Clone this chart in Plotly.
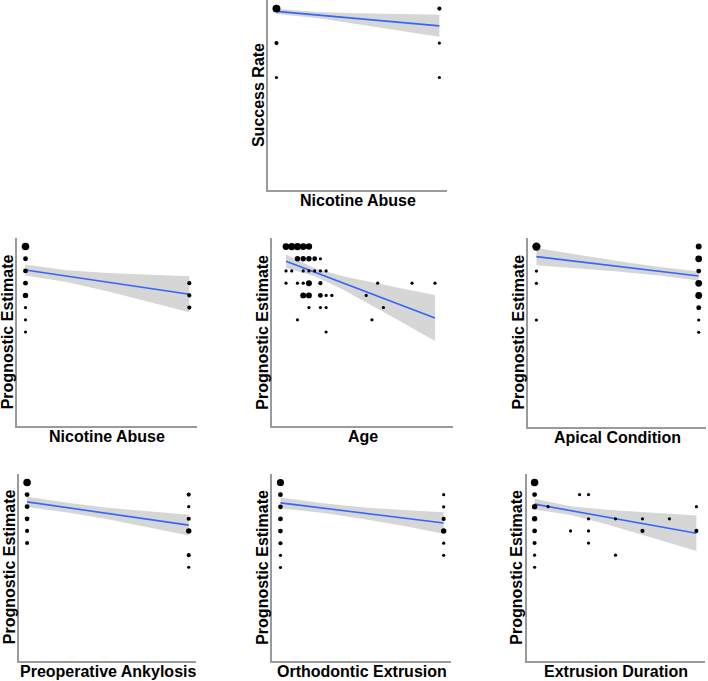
import plotly.graph_objects as go

W, H = 708, 681

# ---------------- data ----------------
# Panel 1: Success Rate vs Nicotine Abuse
sr_x = [0, 0, 0, 1, 1, 1]
sr_y = [5, 4, 3, 5, 4, 3]
sr_n = [10, 2, 1, 2, 1, 1]
sr_fx = [0, 0.25, 0.5, 0.75, 1]
sr_fit = [4.92, 4.815, 4.71, 4.605, 4.50]
sr_lo = [4.842, 4.728, 4.554, 4.369, 4.18]
sr_hi = [4.998, 4.902, 4.866, 4.841, 4.82]

# Panel 2: Prognostic Estimate vs Nicotine Abuse
nic_x = [0, 0, 0, 0, 0, 0, 0, 0, 1, 1, 1]
nic_y = [14, 13, 12, 11, 10, 9, 8, 7, 11, 10, 9]
nic_n = [9, 3, 3, 3, 4, 1, 1, 1, 2, 2, 2]
nic_fx = [0, 0.25, 0.5, 0.75, 1]
nic_fit = [12.08, 11.58, 11.085, 10.59, 10.09]
nic_lo = [11.63, 11.10, 10.33, 9.49, 8.62]
nic_hi = [12.53, 12.06, 11.84, 11.69, 11.56]

# Panel 3: Prognostic Estimate vs Age
age_x = [10, 12, 14, 16, 18,
         14, 16, 18, 20, 22,
         10, 12, 16, 18, 20, 22, 24,
         10, 14, 16, 18, 22, 42, 54, 62,
         16, 18, 22, 24, 26, 38,
         18, 22, 24, 44,
         14, 40,
         24]
age_y = [14, 14, 14, 14, 14,
         13, 13, 13, 13, 13,
         12, 12, 12, 12, 12, 12, 12,
         11, 11, 11, 11, 11, 11, 11, 11,
         10, 10, 10, 10, 10, 10,
         9, 9, 9, 9,
         8, 8,
         7]
age_n = [7, 8, 8, 7, 6,
         4, 4, 4, 3, 1,
         1, 1, 1, 1, 1, 1, 1,
         1, 1, 1, 5, 2, 1, 1, 1,
         5, 5, 3, 1, 1, 1,
         1, 1, 1, 1,
         1, 1,
         1]
age_fx = [10, 20, 30, 40, 50, 62]
age_fit = [12.79, 11.90, 11.01, 10.11, 9.22, 8.15]
age_lo = [12.24, 11.57, 10.46, 9.16, 7.86, 6.27]
age_hi = [13.34, 12.23, 11.56, 11.06, 10.58, 10.03]

# Panel 4: Prognostic Estimate vs Apical Condition
ap_x = [0, 0, 0, 0, 1, 1, 1, 1, 1, 1, 1, 1]
ap_y = [14, 12, 11, 8, 14, 13, 12, 11, 10, 9, 8, 7]
ap_n = [11, 1, 1, 1, 5, 7, 3, 7, 7, 3, 1, 1]
ap_fx = [0, 0.25, 0.5, 0.75, 1]
ap_fit = [13.18, 12.78, 12.385, 11.99, 11.59]
ap_lo = [12.48, 12.23, 11.955, 11.63, 11.22]
ap_hi = [13.88, 13.33, 12.815, 12.35, 11.96]

# Panel 5: Prognostic Estimate vs Preoperative Ankylosis
ank_x = [0, 0, 0, 0, 0, 0, 1, 1, 1, 1, 1, 1]
ank_y = [14, 13, 12, 11, 10, 9, 13, 12, 11, 10, 8, 7]
ank_n = [9, 3, 3, 3, 2, 2, 2, 1, 2, 4, 2, 1]
ank_fx = [0, 0.25, 0.5, 0.75, 1]
ank_fit = [12.40, 11.92, 11.44, 10.96, 10.48]
ank_lo = [11.97, 11.52, 10.97, 10.33, 9.63]
ank_hi = [12.83, 12.32, 11.91, 11.59, 11.33]

# Panel 6: Prognostic Estimate vs Orthodontic Extrusion
oe_x = [0, 0, 0, 0, 0, 0, 0, 0, 1, 1, 1, 1, 1, 1]
oe_y = [14, 13, 12, 11, 10, 9, 8, 7, 13, 12, 11, 10, 9, 8]
oe_n = [8, 3, 3, 3, 3, 2, 1, 1, 1, 1, 2, 4, 1, 1]
oe_fx = [0, 0.25, 0.5, 0.75, 1]
oe_fit = [12.32, 11.91, 11.495, 11.08, 10.67]
oe_lo = [11.87, 11.51, 11.025, 10.43, 9.78]
oe_hi = [12.77, 12.31, 11.965, 11.73, 11.56]

# Panel 7: Prognostic Estimate vs Extrusion Duration
ed_x = [0, 0, 0, 0, 0, 0, 0, 0, 1.5, 5, 6, 4, 6, 6, 6, 9, 9, 12, 12, 15, 18, 18]
ed_y = [14, 13, 12, 11, 10, 9, 8, 7, 12, 13, 13, 10, 11, 10, 9, 11, 8, 11, 10, 11, 12, 10]
ed_n = [9, 3, 4, 4, 3, 2, 1, 1, 1, 1, 1, 1, 1, 1, 1, 1, 1, 1, 2, 1, 1, 2]
ed_fx = [0, 4, 8, 12, 18]
ed_fit = [12.21, 11.68, 11.15, 10.61, 9.81]
ed_lo = [11.76, 11.32, 10.56, 9.69, 8.35]
ed_hi = [12.66, 12.04, 11.74, 11.53, 11.27]

x_titles = ["Nicotine Abuse", "Nicotine Abuse", "Age", "Apical Condition",
            "Preoperative Ankylosis", "Orthodontic Extrusion", "Extrusion Duration"]
y_titles = ["Success Rate"] + ["Prognostic Estimate"] * 6

# ---------------- layout geometry (pixels: left, right, top, bottom) ----------------
panels_px = [
    (268.3, 446.7, 0.0, 189.5),
    (17.3, 196.7, 238.0, 426.0),
    (271.7, 453.3, 238.0, 426.0),
    (528.3, 706.0, 238.0, 426.5),
    (19.0, 196.0, 474.0, 660.5),
    (272.3, 451.0, 474.0, 661.0),
    (526.5, 704.5, 474.0, 660.5),
]
x_ranges = [[-0.05, 1.045], [-0.05, 1.045], [5, 68.4], [-0.05, 1.045],
            [-0.05, 1.045], [-0.05, 1.045], [-0.9, 18.9]]
y_ranges = [[-0.25, 5.25]] + [[-0.7, 14.7]] * 6

panels = [
    (sr_x, sr_y, sr_n, sr_fx, sr_fit, sr_lo, sr_hi),
    (nic_x, nic_y, nic_n, nic_fx, nic_fit, nic_lo, nic_hi),
    (age_x, age_y, age_n, age_fx, age_fit, age_lo, age_hi),
    (ap_x, ap_y, ap_n, ap_fx, ap_fit, ap_lo, ap_hi),
    (ank_x, ank_y, ank_n, ank_fx, ank_fit, ank_lo, ank_hi),
    (oe_x, oe_y, oe_n, oe_fx, oe_fit, oe_lo, oe_hi),
    (ed_x, ed_y, ed_n, ed_fx, ed_fit, ed_lo, ed_hi),
]

fig = go.Figure()
layout = dict(width=W, height=H, margin=dict(l=0, r=0, t=0, b=0),
              paper_bgcolor="white", plot_bgcolor="white", showlegend=False)
annotations = []
FONT = "Liberation Sans, Arial, sans-serif"

for i, (px, py, pn, fx, fit, lo, hi) in enumerate(panels):
    k = "" if i == 0 else str(i + 1)
    xa, ya = "x" + k, "y" + k
    l, r, t, b = panels_px[i]
    layout["xaxis" + k] = dict(domain=[l / W, r / W], range=x_ranges[i], anchor=ya,
                               showline=True, linecolor="#9a9a9a", linewidth=1.5,
                               showgrid=False, zeroline=False, showticklabels=False,
                               ticks="", fixedrange=True)
    layout["yaxis" + k] = dict(domain=[1 - b / H, 1 - t / H], range=y_ranges[i], anchor=xa,
                               showline=True, linecolor="#9a9a9a", linewidth=1.5,
                               showgrid=False, zeroline=False, showticklabels=False,
                               ticks="", fixedrange=True)
    # confidence band
    fig.add_trace(go.Scatter(x=list(fx) + list(fx)[::-1], y=list(hi) + list(lo)[::-1],
                             fill="toself", fillcolor="rgba(153,153,153,0.4)",
                             line=dict(width=0), mode="lines", hoverinfo="skip",
                             xaxis=xa, yaxis=ya))
    # fitted line
    fig.add_trace(go.Scatter(x=fx, y=fit, mode="lines",
                             line=dict(color="#3366FF", width=1.6),
                             xaxis=xa, yaxis=ya))
    # count points
    fig.add_trace(go.Scatter(x=px, y=py, mode="markers",
                             marker=dict(color="black", opacity=1,
                                         size=[1.0 + 2.2 * (n ** 0.5) for n in pn],
                                         line=dict(width=0)),
                             xaxis=xa, yaxis=ya))
    # axis titles
    annotations.append(dict(text="<b>" + x_titles[i] + "</b>", xref="paper", yref="paper",
                            x=(l + r) / 2 / W, y=1 - (b + 10.5) / H, xanchor="center",
                            yanchor="middle", showarrow=False,
                            font=dict(family=FONT, size=16, color="#000000")))
    annotations.append(dict(text="<b>" + y_titles[i] + "</b>", xref="paper", yref="paper",
                            x=(l - 10) / W, y=1 - (t + b) / 2 / H, xanchor="center",
                            yanchor="middle", textangle=-90, showarrow=False,
                            font=dict(family=FONT, size=16, color="#000000")))

layout["annotations"] = annotations
fig.update_layout(**layout)
fig.write_html("out.html")
